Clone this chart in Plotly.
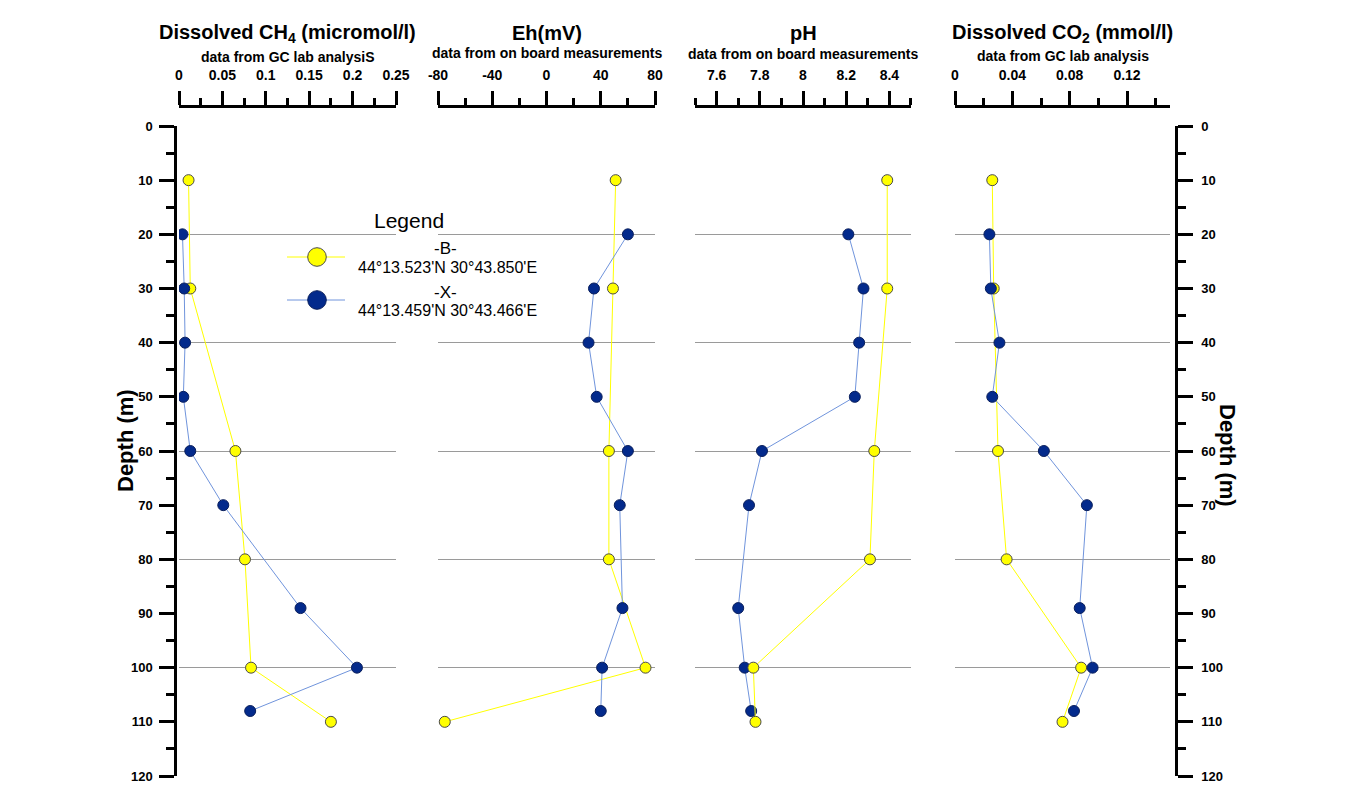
import plotly.graph_objects as go

# ---------------- data ----------------
depth_B = [10, 30, 60, 80, 100, 110]
depth_X = [20, 30, 40, 50, 60, 70, 89, 100, 108]

ch4_B = [0.011, 0.013, 0.065, 0.076, 0.083, 0.175]
ch4_X = [0.004, 0.006, 0.007, 0.005, 0.013, 0.051, 0.140, 0.205, 0.082]

eh_B = [51, 49, 46, 46, 73, -75]
eh_X = [60, 35, 31, 37, 60, 54, 56, 41, 40]

ph_B = [8.39, 8.39, 8.33, 8.31, 7.77, 7.78]
ph_X = [8.21, 8.28, 8.26, 8.24, 7.81, 7.75, 7.70, 7.73, 7.76]

co2_B = [0.026, 0.027, 0.030, 0.036, 0.088, 0.075]
co2_X = [0.024, 0.025, 0.031, 0.026, 0.062, 0.092, 0.087, 0.096, 0.083]

eh_ticks = [-80, -40, 0, 40, 80]
eh_labels = ["-80", "-40", "0", "40", "80"]
ph_ticks = [7.6, 7.8, 8.0, 8.2, 8.4]
ph_labels = ["7.6", "7.8", "8", "8.2", "8.4"]

titles = ["Dissolved CH<sub>4</sub> (micromol/l)", "Eh(mV)", "pH",
          "Dissolved CO<sub>2</sub> (mmol/l)"]
subtitles = ["data from GC lab analysiS", "data from on board measurements",
             "data from on board measurements", "data from GC lab analysis"]

legend_B = ["-B-", "44°13.523'N 30°43.850'E"]
legend_X = ["-X-", "44°13.459'N 30°43.466'E"]

# ---------------- layout helpers ----------------
# page body has an 8px margin, so the figure is shrunk and shifted accordingly
OFF = 8
W, H = 1351 - OFF, 787 - OFF
FONT = "Liberation Sans, Arial, sans-serif"


def px(x):
    return (x - OFF) / W


def py(y):
    return 1 - (y - OFF) / H


YEL = "#FFFF00"
NAVY = "#032A8C"
LBLUE = "#7094DC"
EDGE = "#4a4a4a"

fig = go.Figure()


def add_B(vals, ax):
    fig.add_trace(go.Scatter(
        x=vals, y=depth_B, xaxis=ax, yaxis="y", mode="lines+markers",
        line=dict(color=YEL, width=1),
        marker=dict(size=11, color=YEL, line=dict(color=EDGE, width=1)),
        showlegend=False, hoverinfo="skip"))


def add_X(vals, ax):
    fig.add_trace(go.Scatter(
        x=vals, y=depth_X, xaxis=ax, yaxis="y", mode="lines+markers",
        line=dict(color=LBLUE, width=1),
        marker=dict(size=11, color=NAVY, line=dict(color="#0a1f5c", width=1)),
        showlegend=False, hoverinfo="skip"))


add_B(ch4_B, "x"); add_X(ch4_X, "x")
add_B(eh_B, "x2"); add_X(eh_X, "x2")
add_X(ph_X, "x3"); add_B(ph_B, "x3")
add_B(co2_B, "x4"); add_X(co2_X, "x4")

# empty traces so the depth tick axes get drawn
fig.add_trace(go.Scatter(x=[], y=[], xaxis="x", yaxis="y2", showlegend=False, hoverinfo="skip"))
fig.add_trace(go.Scatter(x=[], y=[], xaxis="x4", yaxis="y3", showlegend=False, hoverinfo="skip"))

tickfont = dict(family=FONT, size=14, color="black", weight="bold")
minor_common = dict(ticks="outside", ticklen=7, tickwidth=2.5, tickcolor="black", showgrid=False)
x_common = dict(side="top", anchor="free", position=py(106), showline=True,
                linecolor="black", linewidth=2.5, ticks="outside", ticklen=14,
                tickwidth=2.5, tickcolor="black", showgrid=False, zeroline=False,
                tickfont=tickfont, fixedrange=True, automargin=False, ticklabelstandoff=6)

y_tick_common = dict(overlaying="y", anchor="free", range=[120, 0],
                     tickmode="linear", tick0=0, dtick=10, showline=True, linecolor="black",
                     linewidth=2.5, ticks="outside", ticklen=15, tickwidth=2.5, tickcolor="black",
                     showgrid=False, zeroline=False, automargin=False,
                     tickfont=dict(family=FONT, size=13, color="black", weight="bold"),
                     minor=dict(tickmode="linear", tick0=0, dtick=5, ticks="outside", ticklen=8,
                                tickwidth=2.5, tickcolor="black", showgrid=False),
                     fixedrange=True)

fig.update_layout(
    xaxis=dict(domain=[px(179), px(396)], range=[0, 0.25], tickmode="linear", tick0=0, dtick=0.05,
               minor=dict(tickmode="linear", tick0=0, dtick=0.025, **minor_common), **x_common),
    xaxis2=dict(domain=[px(438), px(655)], range=[-80, 80], tickmode="array", tickvals=eh_ticks,
                ticktext=eh_labels,
                minor=dict(tickmode="array", tickvals=[-60, -20, 20, 60], **minor_common), **x_common),
    xaxis3=dict(domain=[px(695), px(911)], range=[7.4999, 8.5001], tickmode="array", tickvals=ph_ticks,
                ticktext=ph_labels,
                minor=dict(tickmode="array", tickvals=[7.5, 7.7, 7.9, 8.1, 8.3, 8.5], **minor_common),
                **x_common),
    xaxis4=dict(domain=[px(955), px(1170)], range=[0, 0.15], tickmode="linear", tick0=0, dtick=0.04,
                minor=dict(tickmode="array", tickvals=[0.02, 0.06, 0.10, 0.14], **minor_common),
                **x_common),
    yaxis=dict(domain=[py(776), py(126)], range=[120, 0], anchor="x", tickmode="linear", tick0=0,
               dtick=20, showgrid=True, gridcolor="#9a9a9a", gridwidth=1.2, showticklabels=False,
               ticks="", showline=False, zeroline=False, fixedrange=True, automargin=False),
    yaxis2=dict(position=px(175), side="left", ticklabelstandoff=4, **y_tick_common),
    yaxis3=dict(position=px(1176), side="right", ticklabelstandoff=6, **y_tick_common),
    width=W, height=H, margin=dict(l=0, r=0, t=0, b=0, pad=0, autoexpand=False),
    paper_bgcolor="white", plot_bgcolor="white", showlegend=False,
    font=dict(family=FONT, color="black"),
)

annotations = []
centers = [287.5, 546.5, 803, 1062.5]
sub_y = [57, 53, 54, 56]
for cx, t, s, sy in zip(centers, titles, subtitles, sub_y):
    annotations.append(dict(text=t, x=px(cx), y=py(33), xref="paper", yref="paper",
                            xanchor="center", yanchor="middle", showarrow=False,
                            font=dict(family=FONT, size=20, color="black", weight="bold")))
    annotations.append(dict(text=s, x=px(cx), y=py(sy), xref="paper", yref="paper",
                            xanchor="center", yanchor="middle", showarrow=False,
                            font=dict(family=FONT, size=14, color="black", weight="bold")))

annotations.append(dict(text="Depth (m)", x=px(125), y=py(440), xref="paper", yref="paper",
                        textangle=-90, showarrow=False, xanchor="center", yanchor="middle",
                        font=dict(family=FONT, size=22, color="black", weight="bold")))
annotations.append(dict(text="Depth (m)", x=px(1228), y=py(455), xref="paper", yref="paper",
                        textangle=90, showarrow=False, xanchor="center", yanchor="middle",
                        font=dict(family=FONT, size=22, color="black", weight="bold")))

# legend (manual)
annotations.append(dict(text="Legend", x=px(409), y=py(220), xref="paper", yref="paper",
                        showarrow=False, xanchor="center", yanchor="middle",
                        font=dict(family=FONT, size=21, color="black")))
for (lab, coord), yc in ((legend_B, 248), (legend_X, 292)):
    annotations.append(dict(text=lab, x=px(445), y=py(yc), xref="paper", yref="paper",
                            showarrow=False, xanchor="center", yanchor="middle",
                            font=dict(family=FONT, size=17, color="black")))
    annotations.append(dict(text=coord, x=px(447), y=py(yc + 19), xref="paper", yref="paper",
                            showarrow=False, xanchor="center", yanchor="middle",
                            font=dict(family=FONT, size=16, color="black")))

shapes = []
for yc, lc, fc, ec in ((257, YEL, YEL, EDGE), (300, LBLUE, NAVY, "#0a1f5c")):
    shapes.append(dict(type="line", xref="paper", yref="paper", x0=px(287), x1=px(345),
                       y0=py(yc), y1=py(yc), line=dict(color=lc, width=1)))
    r = 9.3
    shapes.append(dict(type="circle", xref="paper", yref="paper", x0=px(317 - r), x1=px(317 + r),
                       y0=py(yc + r), y1=py(yc - r), fillcolor=fc, line=dict(color=ec, width=1)))

fig.update_layout(annotations=annotations, shapes=shapes)

fig.write_html("out.html")
